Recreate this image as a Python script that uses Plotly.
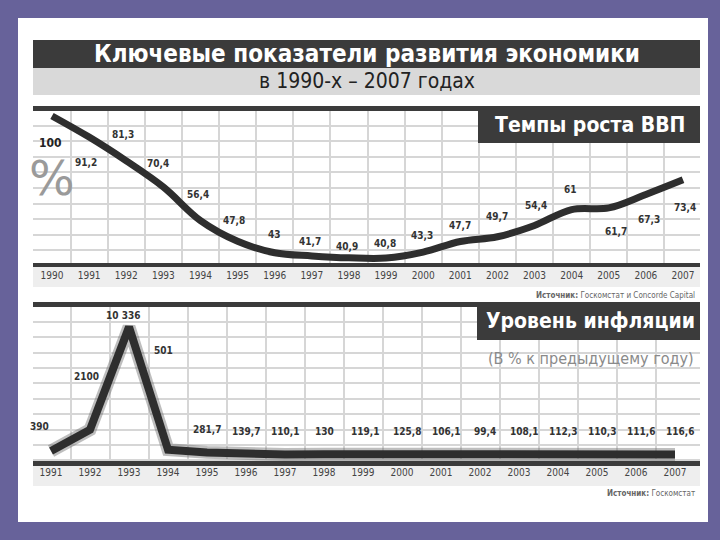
import plotly.graph_objects as go

# ---------------- data ----------------
gdp_years = list(range(1990, 2008))
gdp_values = [100, 91.2, 81.3, 70.4, 56.4, 47.8, 43, 41.7, 40.9, 40.8,
              43.3, 47.7, 49.7, 54.4, 61, 61.7, 67.3, 73.4]
gdp_labels = ["100", "91,2", "81,3", "70,4", "56,4", "47,8", "43", "41,7", "40,9",
              "40,8", "43,3", "47,7", "49,7", "54,4", "61", "61,7", "67,3", "73,4"]

inf_years = list(range(1991, 2008))
inf_values = [390, 2100, 10336, 501, 281.7, 139.7, 110.1, 130, 119.1, 125.8,
              106.1, 99.4, 108.1, 112.3, 110.3, 111.6, 116.6]
inf_labels = ["390", "2100", "10 336", "501", "281,7", "139,7", "110,1", "130",
              "119,1", "125,8", "106,1", "99,4", "108,1", "112,3", "110,3",
              "111,6", "116,6"]

# ---------------- styles ----------------
W, H = 720, 540
def px(x): return x / W
def py(y): return 1 - y / H

COND = "DejaVu Sans Condensed, Liberation Sans Narrow, Arial Narrow, sans-serif"
DARK = "#3b3b3b"
GRID = "#d6d6d6"
LINE = "#2e2e2e"

# label offsets (pixels): (xshift, yshift)
gdp_shift = [(-2, -27), (-3, -25), (-3, 26), (-5, 24), (-2, 26), (-4, 21), (0, 18),
             (-2, 14), (-2, 11), (-1, 15), (-1, 17), (0, 16), (0, 20), (1, 20),
             (-1, 20), (7, -24), (3, -25), (2, -28)]
inf_shift = [(-12, 25), (-4, 53), (-6, 12), (-5, 99)] + [(0, 23)] * 4 + [(2, 23)] + [(5, 23)] * 8

fig = go.Figure()

# top chart line
fig.add_trace(go.Scatter(x=gdp_years, y=gdp_values, mode="lines",
                         line=dict(color=LINE, width=7, shape="spline", smoothing=1.0),
                         xaxis="x", yaxis="y", hoverinfo="skip", showlegend=False))
# bottom chart line (halo + line)
fig.add_trace(go.Scatter(x=inf_years, y=inf_values, mode="lines",
                         line=dict(color="rgba(110,110,110,0.45)", width=13),
                         xaxis="x2", yaxis="y2", hoverinfo="skip", showlegend=False))
fig.add_trace(go.Scatter(x=inf_years, y=inf_values, mode="lines",
                         line=dict(color=LINE, width=8),
                         xaxis="x2", yaxis="y2", hoverinfo="skip", showlegend=False))

annotations = []
for i, (x, y, t) in enumerate(zip(gdp_years, gdp_values, gdp_labels)):
    dx, dy = gdp_shift[i]
    annotations.append(dict(x=x, y=y, xref="x", yref="y", text=t, showarrow=False,
                            xshift=dx, yshift=dy,
                            font=dict(family=COND, size=12 if i == 0 else 10,
                                      color="#222" if i == 0 else "#333",
                                      weight="bold")))
for i, (x, y, t) in enumerate(zip(inf_years, inf_values, inf_labels)):
    dx, dy = inf_shift[i]
    annotations.append(dict(x=x, y=y, xref="x2", yref="y2", text=t, showarrow=False,
                            xshift=dx, yshift=dy,
                            font=dict(family=COND, size=10, color="#333", weight="bold")))

def ptext(x, y, text, size, color, bold=False, xanchor="center", family=COND):
    annotations.append(dict(x=px(x), y=py(y), xref="paper", yref="paper", text=text,
                            showarrow=False, xanchor=xanchor, yanchor="middle",
                            font=dict(family=family, size=size, color=color,
                                      weight="bold" if bold else "normal")))

ptext(367, 54, "Ключевые показатели развития экономики", 24, "white", True)
ptext(367, 81, "в 1990-х – 2007 годах", 21, "#222")
ptext(590, 125, "Темпы роста ВВП", 21, "white", True)
ptext(590, 321, "Уровень инфляции", 21, "white", True)
ptext(591, 358, "(В % к предыдущему году)", 16, "#8a8a8a")
ptext(52, 178, "%", 48, "#9a9a9a", family="DejaVu Sans, sans-serif")
ptext(697, 295, "<b>Источник:</b> Госкомстат и Concorde Capital", 8, "#666", xanchor="right")
ptext(697, 493, "<b>Источник:</b> Госкомстат", 8, "#666", xanchor="right")

shapes = []
def rect(x0, y0, x1, y1, color, layer="below"):
    shapes.append(dict(type="rect", xref="paper", yref="paper", x0=px(x0), x1=px(x1),
                       y0=py(y1), y1=py(y0), fillcolor=color, line=dict(width=0),
                       layer=layer))

rect(18, 18, 708, 522, "white")
rect(33, 40, 700, 68, DARK)
rect(33, 68, 700, 95, "#d9d9d9")
rect(33, 266, 700, 287, "#eeeeee")
rect(33, 465, 700, 486, "#eeeeee")
rect(33, 106, 700, 111, DARK, "above")
rect(33, 263, 700, 267, DARK, "above")
rect(478, 106, 700, 143, DARK, "above")
rect(33, 302, 700, 307, DARK, "above")
rect(33, 461, 700, 466, DARK, "above")
rect(477, 302, 700, 340, DARK, "above")

tickfont = dict(family=COND, size=10, color="#444")
fig.update_layout(
    width=W, height=H, margin=dict(l=0, r=0, t=0, b=0),
    paper_bgcolor="#67629a", plot_bgcolor="rgba(0,0,0,0)",
    showlegend=False,
    xaxis=dict(domain=[px(33), px(700)], range=[1989.488, 2007.458],
               tickvals=gdp_years, ticktext=[str(y) for y in gdp_years],
               tickfont=tickfont, showgrid=False, zeroline=False, ticks="",
               ticklabelstandoff=2,
               minor=dict(tickvals=[y + 0.5 for y in gdp_years[:-1]], showgrid=True,
                          gridcolor=GRID, gridwidth=1.5, ticks="")),
    yaxis=dict(domain=[py(266), py(110)], range=[37.5, 102.5], tick0=37.5, dtick=6.5,
               showgrid=True, gridcolor=GRID, gridwidth=1.5, showticklabels=False,
               zeroline=False),
    xaxis2=dict(domain=[px(33), px(700)], range=[1990.538, 2007.641], anchor="y2",
                tickvals=inf_years, ticktext=[str(y) for y in inf_years],
                tickfont=tickfont, showgrid=False, zeroline=False, ticks="",
                ticklabelstandoff=2,
                minor=dict(tickvals=[y + 0.5 for y in inf_years[:-1]], showgrid=True,
                           gridcolor=GRID, gridwidth=1.5, ticks="")),
    yaxis2=dict(domain=[py(463), py(305)], range=[-570, 12100], tick0=870, dtick=1235,
                showgrid=True, gridcolor=GRID, gridwidth=1.5, showticklabels=False,
                zeroline=False, anchor="x2"),
    annotations=annotations, shapes=shapes,
)

fig.write_html("out.html", config={"displayModeBar": False},
               post_script="document.body.style.margin='0';document.body.style.overflow='hidden';")
